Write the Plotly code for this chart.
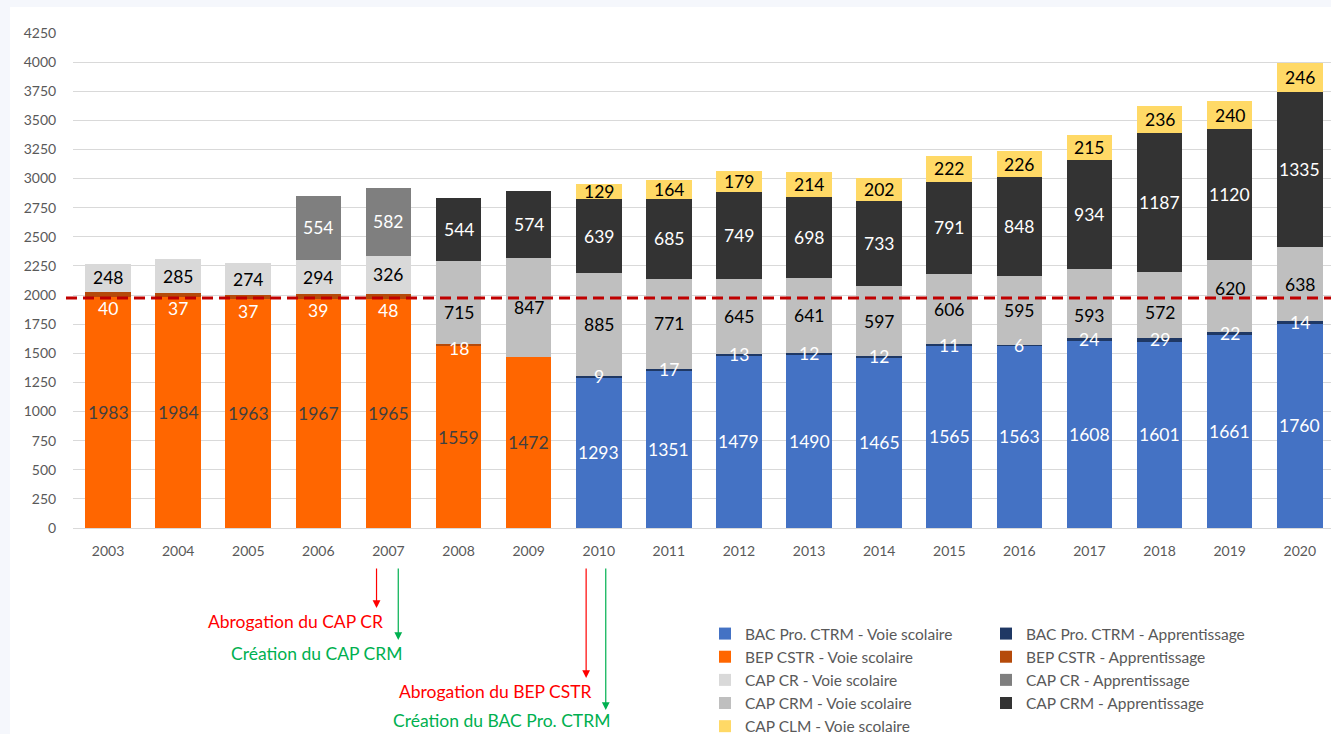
import numpy as np
import plotly.graph_objects as go

years = list(range(2003, 2021))
N = None
bac_vs = [N]*7 + [1293, 1351, 1479, 1490, 1465, 1565, 1563, 1608, 1601, 1661, 1760]
bac_app = [N]*7 + [9, 17, 13, 12, 12, 11, 6, 24, 29, 22, 14]
bep_vs = [1983, 1984, 1963, 1967, 1965, 1559, 1472] + [N]*11
bep_app = [40, 37, 37, 39, 48, 18, N] + [N]*11
cap_cr_vs = [248, 285, 274, 294, 326] + [N]*13
cap_cr_app = [N, N, N, 554, 582] + [N]*13
cap_crm_vs = [N]*5 + [715, 847, 885, 771, 645, 641, 597, 606, 595, 593, 572, 620, 638]
cap_crm_app = [N]*5 + [544, 574, 639, 685, 749, 698, 733, 791, 848, 934, 1187, 1120, 1335]
cap_clm_vs = [N]*7 + [129, 164, 179, 214, 202, 222, 226, 215, 236, 240, 246]

reference_level = 1975

events_text = ["Abrogation du CAP CR", "Création du CAP CRM",
               "Abrogation du BEP CSTR", "Création du BAC Pro. CTRM"]
events_year = [2007, 2007, 2010, 2010]

series = [
    ("BAC Pro. CTRM - Voie scolaire", bac_vs, "#4472C4", "white", "legend"),
    ("BAC Pro. CTRM - Apprentissage", bac_app, "#1F3864", "white", "legend2"),
    ("BEP CSTR - Voie scolaire", bep_vs, "#FF6600", "#404040", "legend"),
    ("BEP CSTR - Apprentissage", bep_app, "#B54A0A", "white", "legend2"),
    ("CAP CR - Voie scolaire", cap_cr_vs, "#D9D9D9", "black", "legend"),
    ("CAP CR - Apprentissage", cap_cr_app, "#7F7F7F", "white", "legend2"),
    ("CAP CRM - Voie scolaire", cap_crm_vs, "#BFBFBF", "black", "legend"),
    ("CAP CRM - Apprentissage", cap_crm_app, "#333333", "white", "legend2"),
    ("CAP CLM - Voie scolaire", cap_clm_vs, "#FFD966", "black", "legend"),
]

# label nudges (pixels) that keep labels clear of the dashed line
label_nudge = {("CAP CRM - Voie scolaire", 2008): -10,
               ("CAP CRM - Voie scolaire", 2017): -12,
               ("CAP CRM - Voie scolaire", 2018): -8,
               ("CAP CRM - Voie scolaire", 2019): 7}

FONT = "Lato"
fig = go.Figure()
annotations = []
base = np.zeros(len(years))
for i, (name, vals, color, tcolor, leg) in enumerate(series):
    fig.add_trace(go.Bar(
        x=years, y=vals, name=name, marker=dict(color=color, line=dict(width=0)),
        legend=leg, legendgroup=name, showlegend=True,
    ))
    for j, v in enumerate(vals):
        if v is None:
            continue
        mid = base[j] + v / 2
        shift = label_nudge.get((name, years[j]), 0)
        if name.startswith("BEP CSTR - Appr"):
            shift = -14 if years[j] < 2008 else -3
        annotations.append(dict(
            x=years[j], y=mid, text=str(v), showarrow=False, yshift=shift,
            font=dict(family=FONT, size=17.5, color=tcolor), xref="x", yref="y"))
        base[j] += v

# Event arrows
plot_top, plot_bottom = 33, 528
def paper_y(px):
    return (plot_bottom - px) / (plot_bottom - plot_top)

arrow_offsets = [-0.17, 0.14, -0.18, 0.10]
arrow_heads_px = [608, 640, 678, 710]
text_centers = [2005.67, 2005.97, 2008.53, 2008.61]
text_px = [621, 653, 691, 720]
ev_colors = ["#FF0000", "#00B050", "#FF0000", "#00B050"]
for k in range(4):
    annotations.append(dict(
        x=events_year[k] + arrow_offsets[k], y=paper_y(arrow_heads_px[k]),
        xref="x", yref="paper", text="", showarrow=True,
        ax=0, ay=-(arrow_heads_px[k] - 567), axref="pixel", ayref="pixel",
        arrowhead=2, arrowsize=1.3, arrowwidth=1.2, arrowcolor=ev_colors[k]))
    annotations.append(dict(
        x=text_centers[k], y=paper_y(text_px[k]), xref="x", yref="paper",
        text=events_text[k], showarrow=False, xanchor="center", yanchor="middle",
        font=dict(family=FONT, size=17.5, color=ev_colors[k])))

L = 73
W = 1331 - L
def paper_x(px):
    return (px - L) / W

shapes = [
    dict(type="rect", xref="paper", yref="paper", x0=paper_x(10), x1=1.02,
         y0=paper_y(740), y1=paper_y(7), fillcolor="white", line=dict(width=0), layer="below"),
    dict(type="line", xref="paper", yref="y", x0=paper_x(66), x1=1.0,
         y0=reference_level, y1=reference_level,
         line=dict(color="#C00000", width=3, dash="11px,6px")),
]

legend_common = dict(yanchor="top", xanchor="left", orientation="v",
                     font=dict(family=FONT, size=15.5, color="#595959"),
                     tracegroupgap=6, bgcolor="rgba(0,0,0,0)", traceorder="normal")

fig.update_layout(
    width=1331, height=734,
    margin=dict(l=L, r=0, t=plot_top, b=734 - plot_bottom, autoexpand=False),
    paper_bgcolor="#F5F7FC", plot_bgcolor="rgba(0,0,0,0)",
    barmode="stack", bargap=0.35,
    font=dict(family=FONT, color="#595959"),
    xaxis=dict(range=[2002.5, 2002.5 + W / 70.1], tickmode="array", tickvals=years,
               ticktext=[str(y) for y in years], showgrid=False, zeroline=False,
               tickfont=dict(size=14, color="#595959"), ticks="outside", ticklen=10,
               tickcolor="rgba(0,0,0,0)", automargin=False),
    yaxis=dict(range=[0, 4250], dtick=250, gridcolor="#D9D9D9", gridwidth=1,
               zeroline=True, zerolinecolor="#D9D9D9", zerolinewidth=1,
               tickfont=dict(size=14, color="#595959"), ticks="outside", ticklen=13,
               tickcolor="rgba(0,0,0,0)", automargin=False),
    legend=dict(x=paper_x(705), y=paper_y(617), **legend_common),
    legend2=dict(x=paper_x(986), y=paper_y(617), **legend_common),
    annotations=annotations, shapes=shapes,
    showlegend=True,
)

fig.write_html("out.html", config={"displayModeBar": False},
               post_script="document.body.style.margin='0';document.body.style.overflow='hidden';")
